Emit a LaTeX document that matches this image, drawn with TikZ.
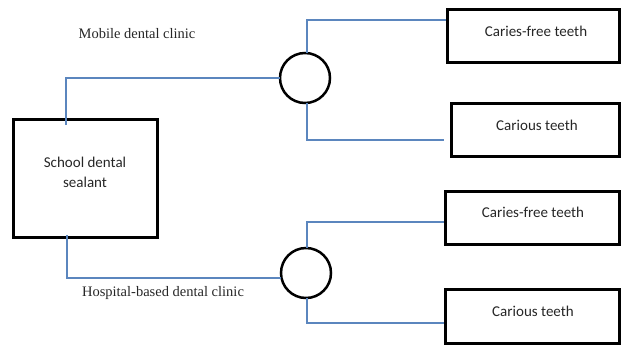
\documentclass[tikz,border=0pt]{standalone}
\usepackage{fontspec}
\setmainfont{Liberation Serif}
\newfontfamily\boxfont{Carlito}
\definecolor{connblue}{HTML}{5B86BE}
\definecolor{txtgray}{HTML}{262626}
\begin{document}
\begin{tikzpicture}[x=1pt,y=-1pt,
  outbox/.style={draw=black, line width=3pt, rectangle, inner sep=0pt, outer sep=0pt},
  hub/.style={draw=black, line width=2.5pt, circle, minimum size=50pt, inner sep=0pt, outer sep=0pt},
  boxtext/.style={font=\boxfont\fontsize{15}{20}\selectfont, text=txtgray, inner sep=0pt, align=center},
  armlabel/.style={font=\fontsize{14.5}{17}\selectfont, text=txtgray, inner sep=0pt},
  conn/.style={draw=connblue, line width=1.1pt}]
\useasboundingbox (0,0) rectangle (623,348);
% boxes
\node[outbox, minimum width=144pt, minimum height=118pt] (school) at (85.5,178.5) {};
\node[outbox, minimum width=172pt, minimum height=53pt] (b1) at (533.5,36) {};
\node[outbox, minimum width=168pt, minimum height=53pt] (b2) at (535.5,130) {};
\node[outbox, minimum width=174pt, minimum height=53pt] (b3) at (532.5,218) {};
\node[outbox, minimum width=174pt, minimum height=54pt] (b4) at (532.5,316.5) {};
% texts
\node[boxtext] (tschool) at (85,172) {School dental\\sealant};
\node[boxtext] (t1) at (536,31) {Caries-free teeth};
\node[boxtext] (t2) at (537,125) {Carious teeth};
\node[boxtext] (t3) at (533,212) {Caries-free teeth};
\node[boxtext] (t4) at (533,311) {Carious teeth};
\node[armlabel] (l1) at (137,34) {Mobile dental clinic};
\node[armlabel] (l2) at (163,293) {Hospital-based dental clinic};
% hubs
\node[hub] (c1) at (305,78) {};
\node[hub] (c2) at (306,273) {};
% coordinates
\coordinate (s1) at (66,125);
\coordinate (s2) at (67,235);
\coordinate (h2) at (280.5,278);
\coordinate (c1t) at (307,53);
\coordinate (c1b) at (307,103);
\coordinate (c2t) at (307,248);
\coordinate (c2b) at (307,298);
\coordinate (e1) at (446,20);
\coordinate (e2) at (444,140);
\coordinate (e3) at (444,222);
\coordinate (e4) at (444,323);
% connectors
\draw[conn] (s1) |- (c1.west);
\draw[conn] (s2) |- (h2);
\draw[conn] (c1t) |- (e1);
\draw[conn] (c1b) |- (e2);
\draw[conn] (c2t) |- (e3);
\draw[conn] (c2b) |- (e4);
\end{tikzpicture}
\end{document}
